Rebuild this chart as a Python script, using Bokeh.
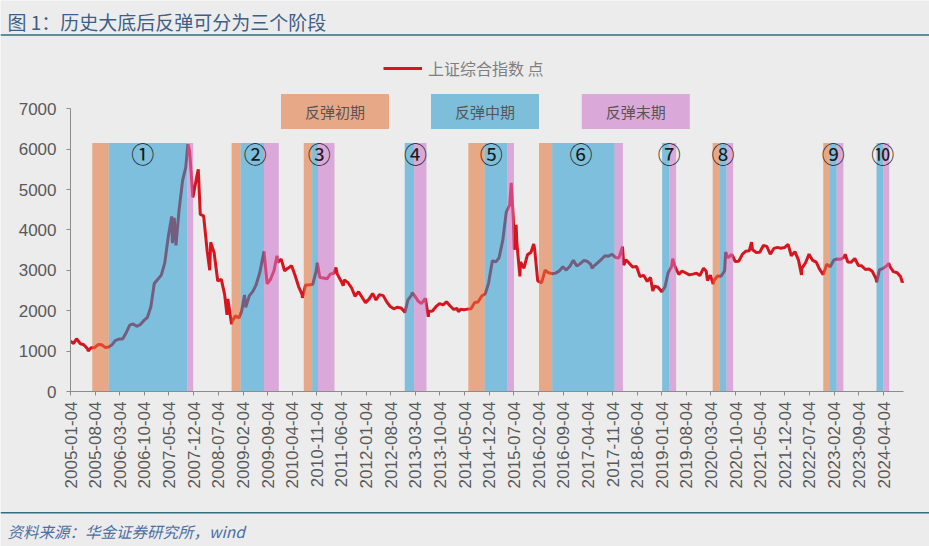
import pandas as pd
from bokeh.plotting import figure
from bokeh.models import (Range1d, FixedTicker, DatetimeTickFormatter, Label, Legend,
                          LegendItem, Span, ColumnDataSource)
from bokeh.core.properties import value
from bokeh.embed import file_html
from bokeh.resources import INLINE

# ---------------- data ----------------
dates = [
    "2005-01-04", "2005-01-31", "2005-02-25", "2005-03-31", "2005-04-29", "2005-05-31", "2005-06-06",
    "2005-06-30", "2005-07-29", "2005-08-31", "2005-09-30", "2005-10-31", "2005-11-30", "2005-12-30",
    "2006-01-25", "2006-02-28", "2006-03-31", "2006-04-28", "2006-05-31", "2006-06-30", "2006-07-31",
    "2006-08-31", "2006-09-29", "2006-10-31", "2006-11-30", "2006-12-29",
    "2007-01-31", "2007-02-28", "2007-03-30", "2007-04-30", "2007-05-29", "2007-06-04", "2007-06-20",
    "2007-07-05", "2007-07-31", "2007-08-31", "2007-09-28", "2007-10-16", "2007-10-31", "2007-11-28",
    "2007-12-28", "2008-01-14", "2008-01-31", "2008-02-29", "2008-03-31", "2008-04-22", "2008-04-30",
    "2008-05-30", "2008-06-30", "2008-07-31", "2008-08-29", "2008-09-18", "2008-09-26", "2008-10-28",
    "2008-10-31", "2008-11-28", "2008-12-31",
    "2009-01-23", "2009-02-17", "2009-02-27", "2009-03-31", "2009-04-30", "2009-05-27", "2009-06-30",
    "2009-07-31", "2009-08-04", "2009-08-31", "2009-09-30", "2009-10-30", "2009-11-24", "2009-11-30",
    "2009-12-31",
    "2010-01-29", "2010-02-26", "2010-03-31", "2010-04-30", "2010-05-31", "2010-06-30", "2010-07-02",
    "2010-07-30", "2010-08-31", "2010-09-30", "2010-10-29", "2010-11-08", "2010-11-30", "2010-12-31",
    "2011-01-31", "2011-02-28", "2011-03-31", "2011-04-18", "2011-04-29", "2011-05-31", "2011-06-20",
    "2011-06-30", "2011-07-29", "2011-08-31", "2011-09-30", "2011-10-31", "2011-11-30", "2011-12-30",
    "2012-01-31", "2012-02-29", "2012-03-30", "2012-04-27", "2012-05-31", "2012-06-29", "2012-07-31",
    "2012-08-31", "2012-09-28", "2012-10-31", "2012-11-30", "2012-12-04", "2012-12-31",
    "2013-01-31", "2013-02-06", "2013-02-28", "2013-03-29", "2013-04-26", "2013-05-31", "2013-06-25",
    "2013-06-28", "2013-07-31", "2013-08-30", "2013-09-30", "2013-10-31", "2013-11-29", "2013-12-31",
    "2014-01-30", "2014-02-28", "2014-03-12", "2014-03-31", "2014-04-30", "2014-05-30", "2014-06-30",
    "2014-07-31", "2014-08-29", "2014-09-30", "2014-10-31", "2014-11-28", "2014-12-31",
    "2015-01-30", "2015-02-27", "2015-03-31", "2015-04-30", "2015-05-29", "2015-06-12", "2015-06-30",
    "2015-07-08", "2015-07-24", "2015-07-31", "2015-08-26", "2015-08-31", "2015-09-30", "2015-10-30",
    "2015-11-30", "2015-12-23", "2015-12-31",
    "2016-01-27", "2016-02-29", "2016-03-31", "2016-04-29", "2016-05-31", "2016-06-30", "2016-07-29",
    "2016-08-31", "2016-09-30", "2016-10-31", "2016-11-30", "2016-12-30",
    "2017-01-26", "2017-02-28", "2017-03-31", "2017-04-28", "2017-05-11", "2017-05-31", "2017-06-30",
    "2017-07-31", "2017-08-31", "2017-09-29", "2017-10-31", "2017-11-30", "2017-12-29",
    "2018-01-29", "2018-02-09", "2018-02-28", "2018-03-30", "2018-04-27", "2018-05-31", "2018-06-29",
    "2018-07-31", "2018-08-31", "2018-09-28", "2018-10-18", "2018-10-31", "2018-11-30", "2018-12-28",
    "2019-01-03", "2019-01-31", "2019-02-28", "2019-03-29", "2019-04-08", "2019-04-30", "2019-05-31",
    "2019-06-28", "2019-07-31", "2019-08-30", "2019-09-30", "2019-10-31", "2019-11-29", "2019-12-31",
    "2020-01-23", "2020-02-03", "2020-02-28", "2020-03-23", "2020-03-31", "2020-04-30", "2020-05-29",
    "2020-06-30", "2020-07-09", "2020-07-31", "2020-08-31", "2020-09-30", "2020-10-30", "2020-11-30",
    "2020-12-31",
    "2021-01-29", "2021-02-18", "2021-02-26", "2021-03-31", "2021-04-30", "2021-05-31", "2021-06-30",
    "2021-07-30", "2021-08-31", "2021-09-30", "2021-10-29", "2021-11-30", "2021-12-31",
    "2022-01-28", "2022-02-28", "2022-03-31", "2022-04-26", "2022-04-29", "2022-05-31", "2022-06-30",
    "2022-07-29", "2022-08-31", "2022-09-30", "2022-10-31", "2022-11-30", "2022-12-30",
    "2023-01-31", "2023-02-28", "2023-03-31", "2023-04-28", "2023-05-09", "2023-05-31", "2023-06-30",
    "2023-07-31", "2023-08-31", "2023-09-28", "2023-10-31", "2023-11-30", "2023-12-29",
    "2024-01-31", "2024-02-05", "2024-02-29", "2024-03-29", "2024-04-30", "2024-05-20", "2024-05-31",
    "2024-06-28", "2024-07-31", "2024-08-30", "2024-09-13", "2024-09-20",
]
closes = [
    1243, 1191, 1306, 1181, 1159, 1060, 1000,
    1080, 1083, 1162, 1155, 1092, 1099, 1161,
    1258, 1299, 1298, 1440, 1641, 1672, 1612,
    1658, 1752, 1837, 2099, 2675,
    2786, 2881, 3183, 3841, 4334, 3670, 4300,
    3615, 4471, 5218, 5552, 6124, 5954, 4803,
    5262, 5497, 4383, 4348, 3473, 3000, 3693,
    3433, 2736, 2775, 2397, 1895, 2293, 1664,
    1729, 1871, 1821,
    1990, 2389, 2082, 2373, 2478, 2633, 2959,
    3412, 3471, 2667, 2779, 2996, 3361, 3195,
    3277,
    2989, 3052, 3110, 2871, 2592, 2398, 2319,
    2638, 2639, 2656, 2979, 3186, 2820, 2808,
    2790, 2905, 2928, 3067, 2911, 2743, 2621,
    2762, 2701, 2568, 2359, 2468, 2333, 2199,
    2292, 2428, 2263, 2397, 2373, 2225, 2103,
    2047, 2086, 2069, 1980, 1949, 2269,
    2385, 2444, 2366, 2237, 2178, 2301, 1849,
    1979, 1994, 2098, 2175, 2142, 2220, 2116,
    2033, 2056, 1974, 2033, 2026, 2039, 2048,
    2202, 2217, 2364, 2420, 2683, 3235,
    3210, 3310, 3748, 4441, 4612, 5166, 4277,
    3507, 4124, 3664, 2850, 3206, 3053, 3383,
    3445, 3651, 3539,
    2738, 2688, 3004, 2938, 2917, 2930, 2979,
    3085, 3005, 3100, 3250, 3104,
    3159, 3242, 3223, 3155, 3053, 3117, 3192,
    3273, 3361, 3349, 3393, 3317, 3307,
    3587, 3129, 3259, 3169, 3082, 3095, 2847,
    2876, 2725, 2821, 2486, 2603, 2588, 2494,
    2464, 2585, 2941, 3091, 3289, 3078, 2899,
    2979, 2933, 2886, 2905, 2929, 2872, 3050,
    2976, 2746, 2880, 2660, 2750, 2860, 2852,
    2985, 3450, 3310, 3396, 3218, 3225, 3392,
    3473,
    3483, 3696, 3509, 3441, 3447, 3615, 3591,
    3397, 3544, 3568, 3547, 3564, 3640,
    3361, 3462, 3252, 2886, 3047, 3186, 3399,
    3253, 3202, 3024, 2893, 3151, 3089,
    3256, 3280, 3273, 3323, 3395, 3205, 3202,
    3291, 3120, 3110, 3019, 3030, 2975,
    2789, 2702, 3015, 3041, 3105, 3171, 3087,
    2967, 2939, 2842, 2705, 2736,
]

# rebound episodes: early (反弹初期), middle (反弹中期), late (反弹末期)
episode_labels = ["①", "②", "③", "④", "⑤", "⑥", "⑦", "⑧", "⑨", "⑩"]
early_start = ["2005-07-11", "2008-10-28", "2010-07-14", "2012-12-03", "2014-06-06",
               "2016-02-07", "2019-01-07", "2020-03-19", "2022-10-31", "2024-02-04"]
mid_start = ["2005-12-01", "2009-01-14", "2010-09-25", "2012-12-03", "2014-10-25",
             "2016-06-01", "2019-01-07", "2020-05-16", "2022-12-28", "2024-02-04"]
late_start = ["2007-10-10", "2009-08-04", "2010-11-14", "2013-02-22", "2015-05-10",
              "2017-11-22", "2019-03-11", "2020-07-16", "2023-02-24", "2024-04-01"]
episode_end = ["2007-12-01", "2009-12-10", "2011-04-06", "2013-06-09", "2015-07-06",
               "2018-02-02", "2019-05-08", "2020-09-12", "2023-04-23", "2024-05-23"]

phase_names = ["反弹初期", "反弹中期", "反弹末期"]
series_name = "上证综合指数 点"
title_text = "图 1：历史大底后反弹可分为三个阶段"
source_text = "资料来源：华金证券研究所，wind"

x_tick_labels = [
    "2005-01-04", "2005-08-04", "2006-03-04", "2006-10-04", "2007-05-04", "2007-12-04",
    "2008-07-04", "2009-02-04", "2009-09-04", "2010-04-04", "2010-11-04", "2011-06-04",
    "2012-01-04", "2012-08-04", "2013-03-04", "2013-10-04", "2014-05-04", "2014-12-04",
    "2015-07-04", "2016-02-04", "2016-09-04", "2017-04-04", "2017-11-04", "2018-06-04",
    "2019-01-04", "2019-08-04", "2020-03-04", "2020-10-04", "2021-05-04", "2021-12-04",
    "2022-07-04", "2023-02-04", "2023-09-04", "2024-04-04",
]
y_ticks = [0, 1000, 2000, 3000, 4000, 5000, 6000, 7000]

# ---------------- styles / layout ----------------
BG = "#ececec"
RED = "#d7151f"
ALPHA = 0.55
PHASE_FILL = ["#e47137", "#239bcf", "#ce73ca"]        # translucent over the line
PHASE_SOLID = ["#e7a888", "#7dbfda", "#dba9d9"]       # legend boxes
BAND_TOP = 6150
NUM_Y = 5900
AXIS_GREY = "#8c8c8c"
TEXT_GREY = "#595959"
RULE = "#2f6f80"
CJK = "Noto Sans CJK SC"
LATIN = "Liberation Sans"

W, H = 929, 546
T0 = pd.Timestamp(x_tick_labels[0])
X0_PX = 70.0                 # canvas x of first date tick
PX_PER_DAY = 813.0 / 7030.0  # from tick spacing
Y0_PX = 391.0                # canvas y of value 0
PX_PER_VAL = 282.8 / 7000.0
X_END_PX = 903.0


def day_at(px):
    return T0 + pd.Timedelta(days=(px - X0_PX) / PX_PER_DAY)


def val_at(py):
    return (Y0_PX - py) / PX_PER_VAL


to_dt = lambda s: pd.to_datetime(pd.Series(s))
line_src = ColumnDataSource(dict(date=to_dt(dates), close=closes))
es, ms, ls, ee = to_dt(early_start), to_dt(mid_start), to_dt(late_start), to_dt(episode_end)
mid_pts = es + (ee - es) / 2

p = figure(width=W, height=H, x_axis_type="datetime",
           x_range=Range1d(day_at(0), day_at(W)), y_range=Range1d(val_at(H), val_at(0)),
           toolbar_location=None, output_backend="svg", min_border=0,
           background_fill_color=BG, border_fill_color=BG, outline_line_color=None)
p.grid.visible = False

line_r = p.line(x="date", y="close", source=line_src, line_color=RED, line_width=3)

for (lft, rgt), col in zip([(es, ms), (ms, ls), (ls, ee)], PHASE_FILL):
    p.quad(left=lft, right=rgt, bottom=0, top=BAND_TOP, fill_color=col,
           fill_alpha=ALPHA, line_color=None)

p.text(x=mid_pts, y=[NUM_Y] * len(episode_labels), text=episode_labels,
       text_align="center", text_baseline="middle", text_font=value(CJK),
       text_font_size="23px", text_color="#1a1a1a")

# axes drawn at fixed data locations inside the full-canvas frame
xa = p.xaxis[0]
xa.fixed_location = 0
xa.bounds = (day_at(X0_PX - 2), day_at(X_END_PX))
xa.ticker = FixedTicker(ticks=[pd.Timestamp(t).value / 1e6 for t in x_tick_labels])
xa.formatter = DatetimeTickFormatter(days="%Y-%m-%d", months="%Y-%m-%d", years="%Y-%m-%d",
                                     hours="%Y-%m-%d", strip_leading_zeros=False)
xa.major_label_orientation = 3.14159265 / 2
ya = p.yaxis[0]
ya.fixed_location = T0.value / 1e6
ya.ticker = FixedTicker(ticks=y_ticks)
ya.bounds = (0, 7000)
for ax in (xa, ya):
    ax.axis_line_color = AXIS_GREY
    ax.major_tick_line_color = AXIS_GREY
    ax.minor_tick_line_color = None
    ax.major_tick_out = 4
    ax.major_tick_in = 0
    ax.major_label_text_font = LATIN
    ax.major_label_text_font_size = "17px"
    ax.major_label_text_color = TEXT_GREY
xa.major_label_standoff = 6
ya.major_label_standoff = 10

# series legend
legend = Legend(items=[LegendItem(label=series_name, renderers=[line_r])],
                location=(383, H - 80), orientation="horizontal", padding=0, margin=0,
                spacing=0, glyph_width=39, glyph_height=20, label_height=20,
                label_standoff=6, label_text_font=CJK, label_text_font_size="16px",
                label_text_color="#7f7f7f", border_line_color=None,
                background_fill_alpha=0)
p.add_layout(legend)

# phase legend boxes
for name, col, cx in zip(phase_names, PHASE_SOLID, [334.5, 484.5, 635.3]):
    p.add_layout(Label(x=cx, y=H - 111, x_units="screen", y_units="screen", text=name,
                       text_align="center", text_baseline="middle", text_font=CJK,
                       text_font_size="15px", text_color="#555555",
                       background_fill_color=col,
                       padding=dict(left=24, right=24, top=7, bottom=7)))

# title, source and rules
p.add_layout(Span(location=val_at(34.5), dimension="width", line_color=RULE, line_width=1.5))
p.add_layout(Span(location=val_at(512.3), dimension="width", line_color=RULE, line_width=1.5))
p.add_layout(Label(x=7, y=H - 20.5, x_units="screen", y_units="screen", text=title_text,
                   text_baseline="middle", text_align="left", text_font=CJK,
                   text_font_size="19px", text_color="#3e5f86"))
p.add_layout(Label(x=7, y=H - 530, x_units="screen", y_units="screen", text=source_text,
                   text_baseline="middle", text_align="left", text_font=CJK,
                   text_font_size="15.5px", text_font_style="italic", text_color="#4a6fa5"))

open("out.html", "w").write(file_html(p, INLINE))
